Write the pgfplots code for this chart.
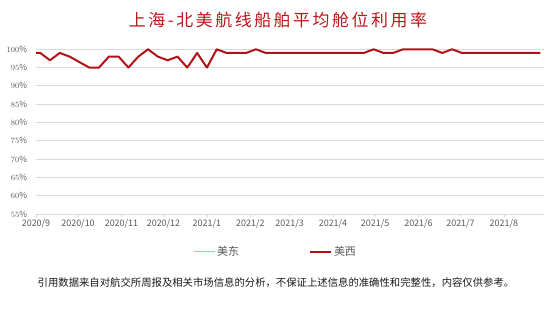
\documentclass[border=0pt]{standalone}
\usepackage{fontspec}
\setmainfont{Noto Sans CJK SC}
\newfontfamily\titlefont[LetterSpace=15]{Noto Sans CJK SC}
\usepackage{pgfplots}
\pgfplotsset{compat=1.18}
\definecolor{titlered}{RGB}{190,20,26}
\definecolor{west}{RGB}{176,18,24}
\definecolor{east}{RGB}{236,162,166}
\definecolor{tickgray}{RGB}{89,89,89}
\definecolor{gridgray}{RGB}{217,217,217}
\pgfplotstableread{
day val
-4 99
3 99
10 97
17 99
24 98
31 96.5
38 95
45 95
52 98
59 98
66 95
73 98
80 100
87 98
94 97
101 98
108 95
115 99
122 95
129 100
136 99
143 99
150 99
157 100
164 99
171 99
178 99
185 99
192 99
199 99
206 99
213 99
220 99
227 99
234 99
241 100
248 99
255 99
262 100
269 100
276 100
283 100
290 99
297 100
304 99
311 99
318 99
325 99
332 99
339 99
346 99
353 99
360 99
}\west
\begin{document}
\begin{tikzpicture}
\path[use as bounding box] (0,0) rectangle (554bp,310bp);
\begin{axis}[
  at={(36bp,96bp)}, anchor=south west,
  width=508bp, height=166.9bp, scale only axis,
  xmin=0, xmax=362.6, ymin=55, ymax=100.6,
  axis x line*=bottom, axis y line*=left,
  y axis line style={draw=none},
  x axis line style={draw=gridgray, line width=0.8pt},
  ytick={55,60,...,100},
  yticklabel={\pgfmathprintnumber{\tick}\%},
  ytick style={draw=none},
  ymajorgrids, grid style={draw=gridgray, line width=0.8pt},
  xtick={0,30,61,91,122,153,181,212,242,273,303,334},
  xticklabels={2020/9,2020/10,2020/11,2020/12,2021/1,2021/2,2021/3,2021/4,2021/5,2021/6,2021/7,2021/8},
  xtick style={draw=gridgray, line width=0.8pt},
  tick align=outside, major tick length=3bp,
  ticklabel style={text=tickgray},
  yticklabel style={xshift=-2.5bp, font=\fontsize{8.4}{10}\selectfont},
  xticklabel style={yshift=1.5bp, font=\fontsize{9}{10}\selectfont},
  legend columns=2,
  legend style={at={(0.4715,-0.226)}, anchor=center, draw=none, fill=none,
    font=\fontsize{11}{13}\selectfont, text=tickgray,
    /tikz/every even column/.append style={column sep=68bp},
    inner sep=0pt},
  legend image code/.code={\draw[#1] (0bp,0bp) -- (21bp,0bp);},
]
\addlegendimage{east, line width=1pt}
\addlegendentry{美东}
\addplot[west, line width=2bp, line join=round] table[x=day, y=val] {\west};
\addlegendentry{美西}
\end{axis}
\node[font=\titlefont\fontsize{17}{20}\selectfont, text=titlered] at (278bp,290bp) {上海-北美航线船舶平均舱位利用率};
\node[font=\fontsize{10.4}{12}\selectfont, text=black!90] at (276bp,27bp) {引用数据来自对航交所周报及相关市场信息的分析，不保证上述信息的准确性和完整性，内容仅供参考。};
\end{tikzpicture}
\end{document}
